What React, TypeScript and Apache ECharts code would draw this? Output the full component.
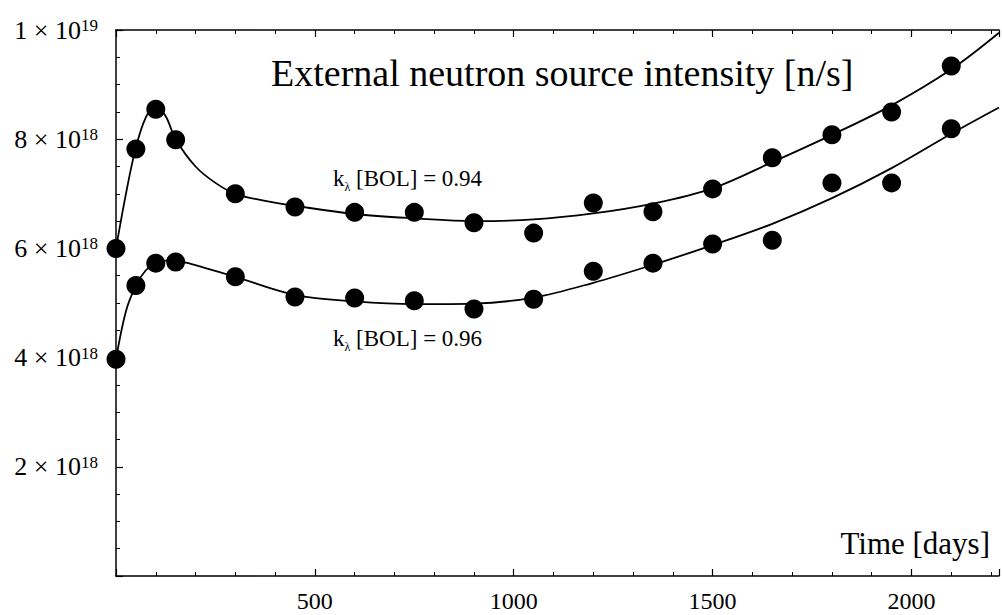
import React, { useEffect, useRef } from "react";
import * as echarts from "echarts";

// Time [days] of the computed points
const pointDays = [0, 50, 100, 150, 300, 450, 600, 750, 900, 1050, 1200, 1350, 1500, 1650, 1800, 1950, 2100];
// Source intensity in units of 1e18 n/s
const upperPoints = [6.0, 7.82, 8.55, 7.99, 7.0, 6.76, 6.66, 6.66, 6.47, 6.28, 6.83, 6.67, 7.09, 7.66, 8.08, 8.5, 9.34];
const lowerPoints = [3.97, 5.32, 5.73, 5.75, 5.48, 5.11, 5.09, 5.04, 4.89, 5.07, 5.58, 5.73, 6.08, 6.15, 7.2, 7.2, 8.19];

// Fitted curves
const upperCurveDays = [0, 25, 50, 75, 100, 125, 150, 200, 250, 300, 375, 450, 600, 750, 900, 1050, 1200, 1350, 1500, 1650, 1800, 1950, 2100, 2220];
const upperCurveVals = [6.0, 7.0, 7.85, 8.4, 8.62, 8.42, 8.0, 7.5, 7.2, 7.0, 6.87, 6.78, 6.63, 6.55, 6.5, 6.53, 6.64, 6.82, 7.1, 7.58, 8.08, 8.62, 9.28, 9.95];
const lowerCurveDays = [0, 25, 50, 75, 100, 130, 175, 225, 300, 450, 600, 750, 900, 1050, 1200, 1350, 1500, 1650, 1800, 1950, 2100, 2220];
const lowerCurveVals = [3.97, 4.85, 5.32, 5.6, 5.73, 5.78, 5.74, 5.64, 5.48, 5.15, 5.03, 4.98, 4.99, 5.1, 5.37, 5.7, 6.06, 6.45, 6.92, 7.47, 8.1, 8.58];

// Y tick labels (value in 1e18 units -> mantissa, exponent)
const yTickValues = [2, 4, 6, 8, 10];
const yTickMantissa = ["2", "4", "6", "8", "1"];
const yTickExponent = ["18", "18", "18", "18", "19"];
const xTickValues = [500, 1000, 1500, 2000];

const titleText = "External neutron source intensity [n/s]";
const xAxisText = "Time [days]";
const label094 = "0.94";
const label096 = "0.96";

const FONT = "'Liberation Serif', 'DejaVu Serif', serif";

export default function App() {
  const ref = useRef<HTMLDivElement>(null);
  useEffect(() => {
    document.body.style.margin = "0";
    const chart = echarts.init(ref.current!, null, { renderer: "svg" });
    const axisCommon = {
      type: "value",
      axisLine: { show: true, lineStyle: { color: "#000", width: 1.5 } },
      axisTick: { show: true, inside: true, length: 7, lineStyle: { color: "#000", width: 1.2 } },
      minorTick: { show: true, length: 4, lineStyle: { color: "#000", width: 1 } },
      splitLine: { show: false },
      minorSplitLine: { show: false },
    };
    const kRich = {
      n: { fontFamily: FONT, fontSize: 23, fill: "#000", color: "#000", lineHeight: 28, verticalAlign: "middle" },
      b: { fontFamily: FONT, fontSize: 12, fill: "#000", color: "#000", lineHeight: 26, verticalAlign: "bottom" },
    };
    const option: any = {
      animation: false,
      backgroundColor: "#fff",
      grid: { left: 116, top: 30, right: 0, bottom: 39 },
      xAxis: [
        {
          ...axisCommon,
          min: 0,
          max: 2220,
          interval: 500,
          minorTick: { ...axisCommon.minorTick, splitNumber: 5 },
          axisLabel: {
            show: true,
            margin: 13,
            color: "#000",
            fontFamily: FONT,
            fontSize: 24,
            formatter: (v: number) => (xTickValues.includes(v) ? String(v) : ""),
          },
        },
        {
          ...axisCommon,
          position: "top",
          min: 0,
          max: 2220,
          interval: 500,
          minorTick: { ...axisCommon.minorTick, splitNumber: 5 },
          axisLabel: { show: false },
        },
      ],
      yAxis: [
        {
          ...axisCommon,
          min: 0,
          max: 10,
          interval: 2,
          minorTick: { ...axisCommon.minorTick, splitNumber: 4 },
          axisLabel: {
            show: true,
            margin: 18,
            color: "#000",
            formatter: (v: number) => {
              const i = yTickValues.indexOf(v);
              if (i < 0) return "";
              return `{m|${yTickMantissa[i]} × 10}{s|${yTickExponent[i]}}`;
            },
            rich: {
              m: { fontFamily: FONT, fontSize: 26, color: "#000", lineHeight: 26, verticalAlign: "middle" },
              s: { fontFamily: FONT, fontSize: 17, color: "#000", lineHeight: 26, verticalAlign: "top" },
            },
          },
        },
      ],
      series: [
        {
          type: "line",
          data: upperCurveDays.map((d, i) => [d, upperCurveVals[i]]),
          smooth: 0.35,
          showSymbol: false,
          lineStyle: { color: "#000", width: 1.8 },
          z: 2,
        },
        {
          type: "line",
          data: lowerCurveDays.map((d, i) => [d, lowerCurveVals[i]]),
          smooth: 0.35,
          showSymbol: false,
          lineStyle: { color: "#000", width: 1.8 },
          z: 2,
        },
        {
          type: "scatter",
          data: pointDays.map((d, i) => [d, upperPoints[i]]),
          symbol: "circle",
          symbolSize: 19,
          itemStyle: { color: "#000", opacity: 1 },
          z: 3,
        },
        {
          type: "scatter",
          data: pointDays.map((d, i) => [d, lowerPoints[i]]),
          symbol: "circle",
          symbolSize: 19,
          itemStyle: { color: "#000", opacity: 1 },
          z: 3,
        },
      ],
      graphic: [
        {
          type: "text",
          left: 271,
          top: 54,
          style: { text: titleText, font: `38px ${FONT}`, fill: "#000" },
        },
        {
          type: "text",
          right: 12,
          top: 528,
          style: { text: xAxisText, font: `31px ${FONT}`, fill: "#000" },
        },
        {
          type: "text",
          left: 333,
          top: 167,
          style: { text: `{n|k}{b|λ}{n| [BOL] = ${label094}}`, rich: kRich },
        },
        {
          type: "text",
          left: 333,
          top: 327,
          style: { text: `{n|k}{b|λ}{n| [BOL] = ${label096}}`, rich: kRich },
        },
      ],
    };
    chart.setOption(option);
    return () => chart.dispose();
  }, []);
  return (
    <div
      ref={ref}
      style={{ position: "absolute", left: 0, top: 0, width: 1002, height: 615, background: "#fff" }}
    />
  );
}
